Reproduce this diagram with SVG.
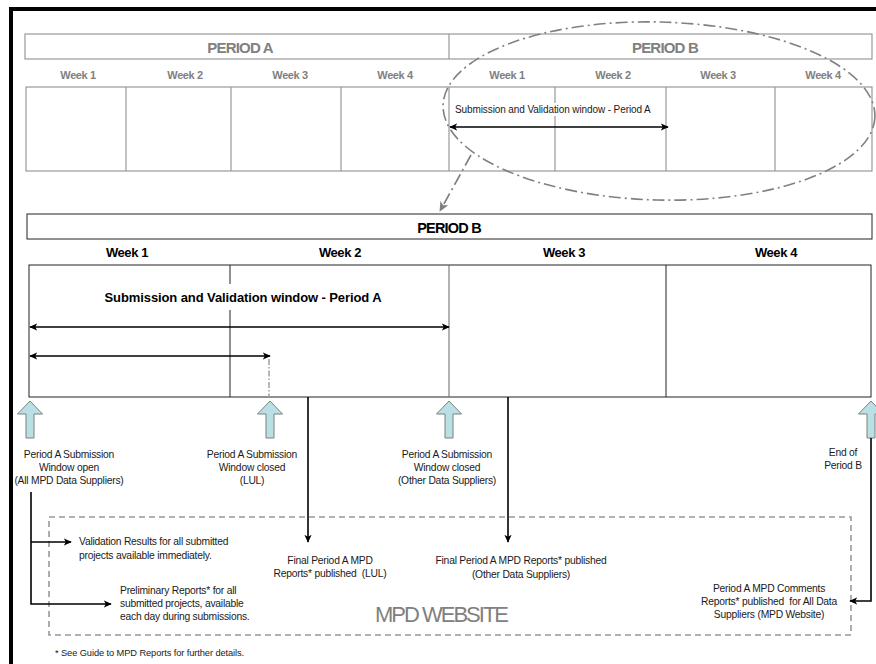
<svg xmlns="http://www.w3.org/2000/svg" xmlns:xlink="http://www.w3.org/1999/xlink" width="876" height="664" viewBox="0 0 876 664">
<style>
text{font-family:"Liberation Sans",Arial,sans-serif}
.hdr{font-weight:bold;font-size:15px;letter-spacing:-0.8px;fill:#808080;text-anchor:middle}
.hdrB{font-weight:bold;font-size:14.5px;letter-spacing:-0.8px;fill:#000;text-anchor:middle}
.wkg{font-weight:bold;font-size:11px;letter-spacing:-0.4px;fill:#808080;text-anchor:middle}
.wk{font-weight:bold;font-size:13px;letter-spacing:-0.4px;fill:#000;text-anchor:middle}
.sm{font-size:10.3px;letter-spacing:-0.22px;fill:#1a1a1a}
.c{text-anchor:middle}
.big{font-weight:bold;font-size:13px;letter-spacing:-0.1px;fill:#000;text-anchor:middle}
.web{font-size:22px;letter-spacing:-2px;fill:#808080;text-anchor:middle}
.foot{font-size:9.3px;letter-spacing:-0.1px;fill:#1a1a1a}
.gbox{fill:#fff;stroke:#999;stroke-width:1.2}
.gline{stroke:#999;stroke-width:1.2}
.bbox{fill:#fff;stroke:#222;stroke-width:1}
.bl{stroke:#000;stroke-width:1.6;fill:none}
.up{fill:#b9e0e4;stroke:#7f7f7f;stroke-width:1}
</style>
<defs>
<marker id="ah" viewBox="0 0 10 10" refX="9" refY="5" markerWidth="8" markerHeight="8" markerUnits="userSpaceOnUse" orient="auto-start-reverse"><path d="M0,0.5 L10,5 L0,9.5 L2.5,5 z" fill="#000"/></marker>
<marker id="ahg" viewBox="0 0 10 10" refX="9" refY="5" markerWidth="10" markerHeight="10" markerUnits="userSpaceOnUse" orient="auto"><path d="M0,0.5 L10,5 L0,9.5 L2.5,5 z" fill="#808080"/></marker>
<path id="uparrow" class="up" d="M0,401 L12.5,414 L4,414 L4,438 L-4,438 L-4,414 L-12.5,414 Z"/>
</defs>

<!-- outer frame -->
<path d="M11,664 V9 H876" fill="none" stroke="#000" stroke-width="4"/>

<!-- top overview -->
<g id="top-periods">
<rect class="gbox" x="25" y="34" width="847" height="25"/>
<line class="gline" x1="449" y1="34" x2="449" y2="59"/>
<text class="hdr" x="240" y="53">PERIOD A</text>
<text class="hdr" x="665" y="53">PERIOD B</text>
</g>
<g id="top-weeks">
<text class="wkg" x="78" y="79">Week 1</text>
<text class="wkg" x="185" y="79">Week 2</text>
<text class="wkg" x="290" y="79">Week 3</text>
<text class="wkg" x="395" y="79">Week 4</text>
<text class="wkg" x="507" y="79">Week 1</text>
<text class="wkg" x="613" y="79">Week 2</text>
<text class="wkg" x="718" y="79">Week 3</text>
<text class="wkg" x="823" y="79">Week 4</text>
<rect class="gbox" x="26" y="87" width="846" height="84"/>
<line class="gline" x1="126" y1="87" x2="126" y2="171"/>
<line class="gline" x1="231" y1="87" x2="231" y2="171"/>
<line class="gline" x1="341" y1="87" x2="341" y2="171"/>
<line class="gline" x1="449" y1="87" x2="449" y2="171"/>
<line class="gline" x1="555" y1="87" x2="555" y2="171"/>
<line class="gline" x1="666" y1="87" x2="666" y2="171"/>
<line class="gline" x1="775" y1="87" x2="775" y2="171"/>
</g>
<g id="top-window">
<rect x="454" y="103" width="206" height="13" fill="#fff"/>
<text x="455" y="113" style="font-size:10px;letter-spacing:-0.1px;fill:#1a1a1a">Submission and Validation window - Period A</text>
</g>
<g id="zoom-ellipse">
<ellipse cx="659" cy="111" rx="216" ry="89" transform="rotate(1.5 659 111)" fill="none" stroke="#808080" stroke-width="1.6" stroke-dasharray="12 4 2 4"/>
</g>

<!-- bottom detail -->
<g id="periodB-header">
<rect class="bbox" x="27" y="214" width="845" height="25" stroke="#333"/>
<text class="hdrB" x="449" y="233">PERIOD B</text>
</g>
<g id="periodB-weeks">
<text class="wk" x="127" y="257">Week 1</text>
<text class="wk" x="340" y="257">Week 2</text>
<text class="wk" x="564" y="257">Week 3</text>
<text class="wk" x="776" y="257">Week 4</text>
<rect class="bbox" x="29" y="265" width="842" height="132"/>
<line stroke="#222" stroke-width="1" x1="230" y1="265" x2="230" y2="397"/>
<line stroke="#666" stroke-width="1" x1="449" y1="265" x2="449" y2="397"/>
<line stroke="#222" stroke-width="1" x1="666" y1="265" x2="666" y2="397"/>
</g>
<g id="window-label">
<rect x="100" y="284" width="288" height="26" fill="#fff"/>
<text class="big" x="243" y="302">Submission and Validation window - Period A</text>
</g>

<g id="milestone-open">
<use xlink:href="#uparrow" x="30"/>
<text class="sm c" x="69" y="458">Period A Submission</text>
<text class="sm c" x="69" y="471">Window open</text>
<text class="sm c" x="69" y="484">(All MPD Data Suppliers)</text>
</g>
<g id="milestone-lul">
<use xlink:href="#uparrow" x="270"/>
<text class="sm c" x="252" y="458">Period A Submission</text>
<text class="sm c" x="252" y="471">Window closed</text>
<text class="sm c" x="252" y="484">(LUL)</text>
</g>
<g id="milestone-other">
<use xlink:href="#uparrow" x="449"/>
<text class="sm c" x="447" y="458">Period A Submission</text>
<text class="sm c" x="447" y="471">Window closed</text>
<text class="sm c" x="447" y="484">(Other Data Suppliers)</text>
</g>
<g id="milestone-end">
<use xlink:href="#uparrow" x="871"/>
<text class="sm c" x="843" y="456">End of</text>
<text class="sm c" x="843" y="469">Period B</text>
</g>

<g id="mpd-website">
<rect x="49" y="517" width="802" height="118" fill="none" stroke="#999" stroke-width="1.6" stroke-dasharray="6 4"/>
<text class="web" x="441" y="622">MPD WEBSITE</text>
</g>
<g id="validation-results">
<text class="sm" x="79" y="545">Validation Results for all submitted</text>
<text class="sm" x="79" y="559">projects available immediately.</text>
</g>
<g id="preliminary-reports">
<text class="sm" x="120" y="594">Preliminary Reports* for all</text>
<text class="sm" x="120" y="607">submitted projects, available</text>
<text class="sm" x="120" y="620">each day during submissions.</text>
</g>
<g id="final-lul">
<text class="sm c" x="330" y="564">Final Period A MPD</text>
<text class="sm c" x="330" y="577" xml:space="preserve">Reports* published  (LUL)</text>
</g>
<g id="final-other">
<text class="sm c" x="521" y="564">Final Period A MPD Reports* published</text>
<text class="sm c" x="521" y="578">(Other Data Suppliers)</text>
</g>
<g id="comments-reports">
<text class="sm c" x="769" y="592">Period A MPD Comments</text>
<text class="sm c" x="769" y="605" xml:space="preserve">Reports* published  for All Data</text>
<text class="sm c" x="769" y="618">Suppliers (MPD Website)</text>
</g>

<text class="foot" x="55" y="656">* See Guide to MPD Reports for further details.</text>

<g id="connectors">
<line class="bl" x1="450" y1="127" x2="668" y2="127" marker-start="url(#ah)" marker-end="url(#ah)"/>
<path d="M471,155 L440,211" fill="none" stroke="#808080" stroke-width="1.6" stroke-dasharray="12 4 2 4" marker-end="url(#ahg)"/>
<line class="bl" x1="30" y1="327" x2="449" y2="327" marker-start="url(#ah)" marker-end="url(#ah)"/>
<line class="bl" x1="30" y1="356" x2="270" y2="356" marker-start="url(#ah)" marker-end="url(#ah)"/>
<line x1="269" y1="359" x2="269" y2="397" stroke="#999" stroke-width="1.4" stroke-dasharray="6 2 1.5 2"/>
<line class="bl" x1="308" y1="397" x2="308" y2="542" marker-end="url(#ah)"/>
<line class="bl" x1="508" y1="397" x2="508" y2="542" marker-end="url(#ah)"/>
<path class="bl" d="M31,492 V604 H111" marker-end="url(#ah)"/>
<line class="bl" x1="31" y1="542" x2="71" y2="542" marker-end="url(#ah)"/>
<path class="bl" d="M871,438 V601 H850" marker-end="url(#ah)"/>
</g>
</svg>
